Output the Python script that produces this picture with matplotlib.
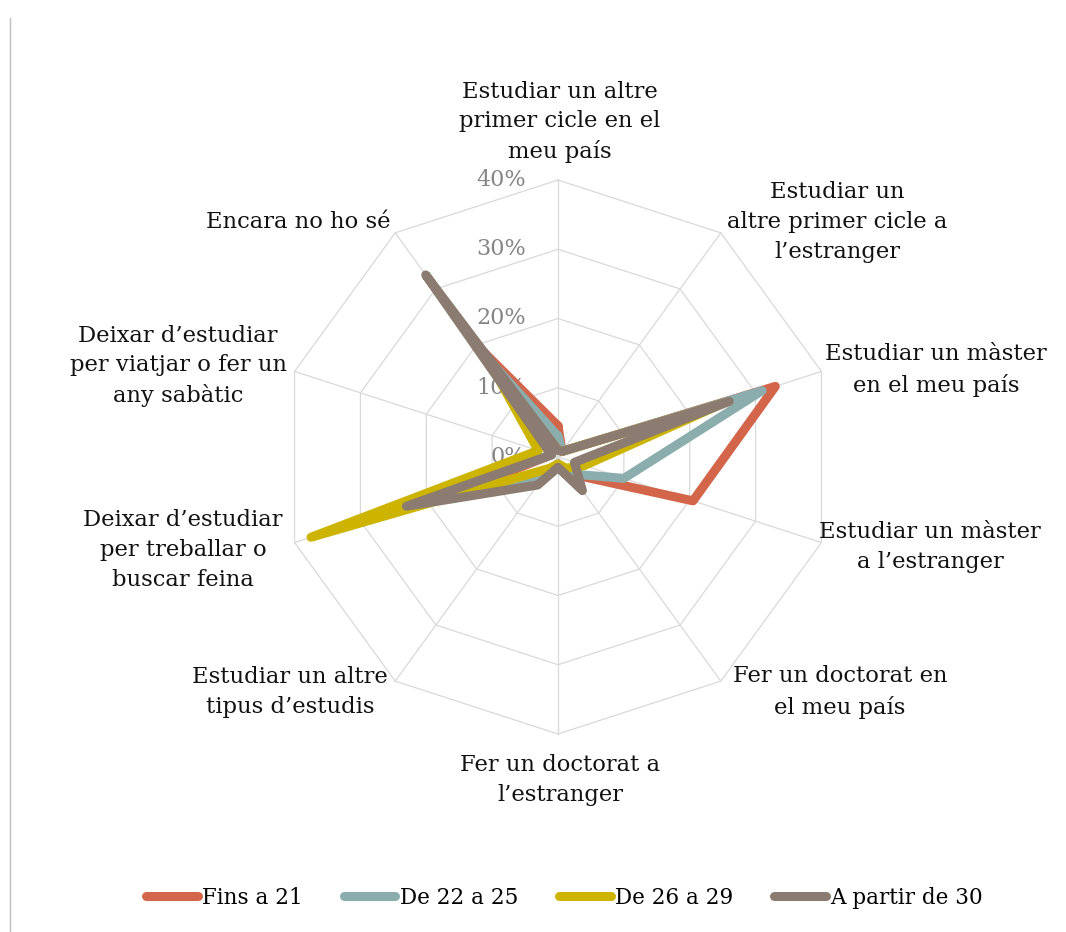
import numpy as np
import matplotlib.pyplot as plt
from matplotlib.lines import Line2D
from matplotlib.transforms import offset_copy

plt.rcParams['font.family'] = ['DejaVu Serif']

categories = [
    "Estudiar un altre\nprimer cicle en el\nmeu país",
    "Estudiar un\naltre primer cicle a\nl’estranger",
    "Estudiar un màster\nen el meu país",
    "Estudiar un màster\na l’estranger",
    "Fer un doctorat en\nel meu país",
    "Fer un doctorat a\nl’estranger",
    "Estudiar un altre\ntipus d’estudis",
    "Deixar d’estudiar\nper treballar o\nbuscar feina",
    "Deixar d’estudiar\nper viatjar o fer un\nany sabàtic",
    "Encara no ho sé",
]

series_names = ["Fins a 21", "De 22 a 25", "De 26 a 29", "A partir de 30"]
fins_21 = [4.5, 1, 33, 20.5, 3, 1, 3.5, 10, 1, 20]
de_22_25 = [3, 1, 31, 10, 3, 1, 3, 24, 1, 19]
de_26_29 = [1, 1, 25, 4, 2, 1, 2, 37.5, 3, 16.5]
a_partir_30 = [1, 1, 26, 2.5, 6, 1.5, 5, 23, 1, 32.5]
r_ticks = [0, 10, 20, 30, 40]

colors = ["#d2654a", "#8cadad", "#ccb400", "#8b7b70"]

# label centres in pixels (x from left, y from top)
label_px = [(560, 122), (837, 222), (936, 370), (930, 547), (840, 692),
            (560, 780), (290, 692), (183, 550), (178, 366), (298, 222)]

W, H = 1066, 932
fig = plt.figure(figsize=(W / 100, H / 100), dpi=100)

cx, cy, R = 558, 457, 277
ax = fig.add_axes([(cx - R) / W, (H - cy - R) / H, 2 * R / W, 2 * R / H],
                  projection='polar')
ax.set_theta_zero_location('N')
ax.set_theta_direction(-1)
ax.set_ylim(0, 40)
ax.grid(False)
ax.spines['polar'].set_visible(False)
ax.set_xticks([])
ax.set_yticks([])
ax.patch.set_alpha(0)

n = len(categories)
theta = np.arange(n) * 2 * np.pi / n
closed = np.append(theta, theta[0])

# decagon grid and spokes
grid_col = "#d9d9d9"
for r in r_ticks[1:]:
    ax.plot(closed, [r] * (n + 1), color=grid_col, lw=0.9, clip_on=False, zorder=1)
for t in theta:
    ax.plot([t, t], [0, r_ticks[-1]], color=grid_col, lw=0.9, clip_on=False, zorder=1)

# radial tick labels to the left of the top spoke
lab_tr = offset_copy(ax.transData, fig=fig, x=-32, y=0, units='dots')
for r in r_ticks:
    ax.text(0, r, f"{r}%", transform=lab_tr, ha='right', va='center',
            fontsize=16, color='#858585', zorder=2)

series = [fins_21, de_22_25, de_26_29, a_partir_30]
for name, vals, col in zip(series_names, series, colors):
    ax.plot(closed, np.append(vals, vals[0]), color=col, lw=6.5,
            solid_joinstyle='round', solid_capstyle='round',
            clip_on=False, zorder=3, label=name)

for text, (x, y) in zip(categories, label_px):
    fig.text(x / W, 1 - y / H, text, ha='center', va='center',
             fontsize=16.3, linespacing=1.45, color='#111111')

handles = [Line2D([], [], color=c, lw=6.5, solid_capstyle='round') for c in colors]
fig.legend(handles, series_names, loc='center', bbox_to_anchor=(564.5 / W, 1 - 898 / H),
           ncol=4, frameon=False, fontsize=15.5, handlelength=2.4,
           handletextpad=0.2, columnspacing=1.9)

# thin frame line on the left edge
fig.add_artist(Line2D([10 / W, 10 / W], [0, 1 - 18 / H], color='#bfbfbf', lw=1))

fig.savefig('out.png', dpi=100, facecolor='white')
